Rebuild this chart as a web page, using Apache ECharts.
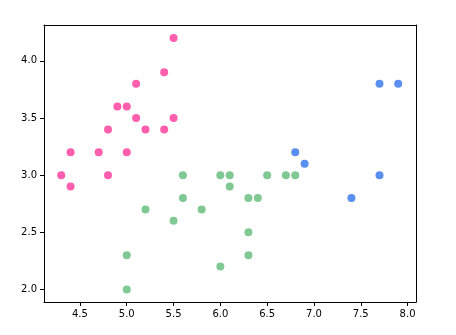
<!DOCTYPE html>
<html>
<head>
<meta charset="utf-8">
<script src="https://cdn.jsdelivr.net/npm/echarts@6/dist/echarts.min.js"></script>
<style>html,body{margin:0;padding:0;background:#fff}#c{width:456px;height:335px}</style>
</head>
<body>
<div id="c"></div>
<script>
const pinkX = [4.3,4.4,4.4,4.7,4.8,4.8,4.9,5.0,5.0,5.1,5.1,5.2,5.4,5.4,5.5,5.5];
const pinkY = [3.0,2.9,3.2,3.2,3.4,3.0,3.6,3.6,3.2,3.8,3.5,3.4,3.9,3.4,4.2,3.5];
const greenX = [5.6,6.0,6.1,6.1,6.5,6.7,6.8,5.6,6.3,6.4,5.2,5.8,5.5,6.3,5.0,6.3,6.0,5.0];
const greenY = [3.0,3.0,3.0,2.9,3.0,3.0,3.0,2.8,2.8,2.8,2.7,2.7,2.6,2.5,2.3,2.3,2.2,2.0];
const blueX = [7.7,7.9,6.8,6.9,7.7,7.4];
const blueY = [3.8,3.8,3.2,3.1,3.0,2.8];
const xTicks = [4.5,5.0,5.5,6.0,6.5,7.0,7.5,8.0];
const yTicks = [2.0,2.5,3.0,3.5,4.0];

const zip = (a,b) => a.map((v,i)=>[v,b[i]]);
const chart = echarts.init(document.getElementById('c'), null, {renderer:'canvas'});
const lbl = {color:'#000', fontFamily:'DejaVu Sans', fontSize:10, formatter: v => Number(v).toFixed(1)};
const line = {show:true,onZero:false,lineStyle:{color:'#000',width:1}};
chart.setOption({
  animation:false,
  grid:{left:44,right:40,top:25,bottom:33},
  xAxis:[{type:'value',min:4.116,max:8.09,axisLine:line,
    axisTick:{show:true,length:4,inside:false,customValues:xTicks,lineStyle:{color:'#000'}},
    axisLabel:Object.assign({customValues:xTicks,margin:7},lbl),
    splitLine:{show:false}},
    {type:'value',position:'top',min:4.116,max:8.09,axisLine:line,axisTick:{show:false},axisLabel:{show:false},splitLine:{show:false}}],
  yAxis:[{type:'value',min:1.89,max:4.314,axisLine:line,
    axisTick:{show:true,length:4,inside:false,customValues:yTicks,lineStyle:{color:'#000'}},
    axisLabel:Object.assign({customValues:yTicks,margin:7},lbl),
    splitLine:{show:false}},
    {type:'value',position:'right',min:1.89,max:4.314,axisLine:line,axisTick:{show:false},axisLabel:{show:false},splitLine:{show:false}}],
  series:[
    {type:'scatter',data:zip(pinkX,pinkY),symbolSize:8,itemStyle:{color:'#ff5fad',opacity:1}},
    {type:'scatter',data:zip(greenX,greenY),symbolSize:8,itemStyle:{color:'#80c994',opacity:1}},
    {type:'scatter',data:zip(blueX,blueY),symbolSize:8,itemStyle:{color:'#5a8ff0',opacity:1}}
  ]
});
</script>
</body>
</html>
